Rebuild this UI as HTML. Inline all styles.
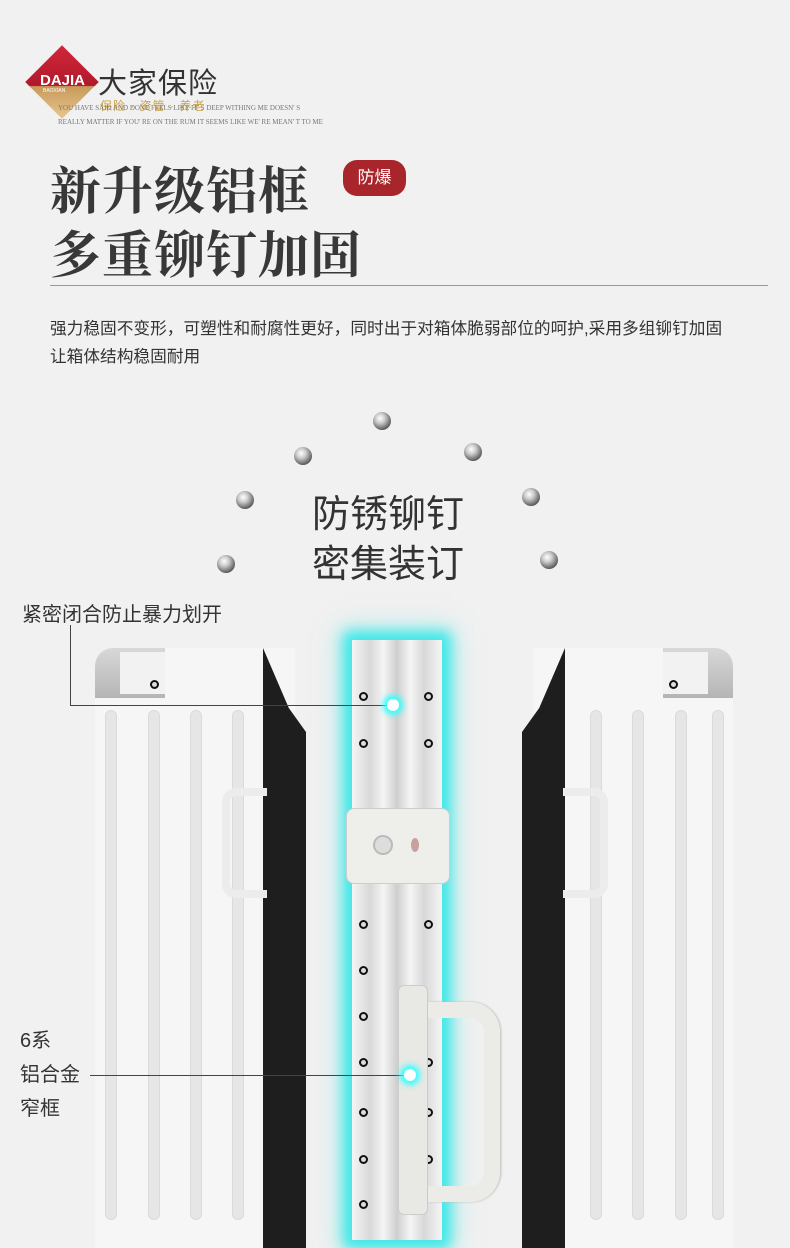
<!DOCTYPE html>
<html><head><meta charset="utf-8"><style>
*{margin:0;padding:0;box-sizing:border-box}
body{width:790px;height:1223px;background:#f1f1f1;position:relative;overflow:hidden;font-family:"Liberation Sans","Noto Sans CJK SC",sans-serif;color:#333}
.a{position:absolute}
.serif{font-family:"Liberation Serif","Noto Serif CJK SC",serif}
.ball{position:absolute;width:18px;height:18px;border-radius:50%;background:radial-gradient(circle at 40% 35%,#fff 0,#ccc 30%,#555 75%,#222 100%)}
.hole{position:absolute;width:9px;height:9px;border-radius:50%;border:2px solid #111;background:#ddd}
.groove{position:absolute;width:12px;border-radius:6px;background:#e6e6e6;border:1px solid #dadada}
</style></head><body>
<!-- logo -->
<div class="a" style="left:36px;top:56px;width:52px;height:52px;transform:rotate(45deg);background:linear-gradient(135deg,#d3263a,#b01a2a 55%,#c89a5a 56%,#e8c590)"></div>
<div class="a" style="left:40px;top:72px;font-size:15px;font-weight:bold;color:#fff">DAJIA</div>
<div class="a" style="left:43px;top:88px;font-size:5px;color:#fff">BAOXIAN</div>
<div class="a" style="left:98px;top:60px;font-size:29px;color:#333;letter-spacing:1px">大家保险</div>
<div class="a" style="left:100px;top:97px;font-size:12px;color:#c9a24c;letter-spacing:1px">保险 · 资管 · 养老</div>
<div class="a serif" style="left:58px;top:104px;font-size:7px;color:#777">YOU HAVE SAID AND DONE FEELS LIKE IT' S DEEP WITHING ME DOESN' S</div>
<div class="a serif" style="left:58px;top:118px;font-size:7px;color:#777">REALLY MATTER IF YOU' RE ON THE RUM IT SEEMS LIKE WE' RE MEAN' T TO ME</div>
<!-- title -->
<div class="a serif" style="left:50px;top:150px;font-size:51px;font-weight:bold;color:#383838;letter-spacing:1px">新升级铝框</div>
<div class="a serif" style="left:50px;top:214px;font-size:51px;font-weight:bold;color:#383838;letter-spacing:1px">多重铆钉加固</div>
<div class="a" style="left:343px;top:160px;width:63px;height:36px;border-radius:14px;background:#a8252b;color:#fff;font-size:17px;text-align:center;line-height:36px">防爆</div>
<div class="a" style="left:50px;top:285px;width:718px;height:1px;background:#999"></div>
<div class="a" style="left:50px;top:315px;font-size:16.7px;color:#333;white-space:nowrap">强力稳固不变形，可塑性和耐腐性更好，同时出于对箱体脆弱部位的呵护,采用多组铆钉加固</div>
<div class="a" style="left:50px;top:343px;font-size:16.7px;color:#333">让箱体结构稳固耐用</div>
<!-- rivets -->
<div class="ball" style="left:373px;top:412px"></div>
<div class="ball" style="left:294px;top:447px"></div>
<div class="ball" style="left:464px;top:443px"></div>
<div class="ball" style="left:236px;top:491px"></div>
<div class="ball" style="left:522px;top:488px"></div>
<div class="ball" style="left:217px;top:555px"></div>
<div class="ball" style="left:540px;top:551px"></div>
<div class="a" style="left:300px;top:483px;width:176px;text-align:center;font-size:38px;color:#333">防锈铆钉</div>
<div class="a" style="left:300px;top:533px;width:176px;text-align:center;font-size:38px;color:#333">密集装订</div>
<div class="a" style="left:22px;top:598px;font-size:20px;color:#333">紧密闭合防止暴力划开</div>
<!-- left case -->
<div class="a" style="left:95px;top:648px;width:200px;height:600px;background:#f6f6f6;border-radius:18px 0 0 0"></div>
<div class="a" style="left:95px;top:648px;width:70px;height:50px;background:linear-gradient(#d8d8d8,#b5b5b5);border-radius:18px 0 0 0"></div>
<div class="a" style="left:120px;top:652px;width:45px;height:42px;background:#f2f2f2"></div>
<div class="hole" style="left:150px;top:680px"></div>
<div class="a" style="left:263px;top:648px;width:43px;height:600px;background:#1e1e1e;clip-path:polygon(0 0,60% 10%,100% 14%,100% 100%,0 100%)"></div>
<div class="groove" style="left:105px;top:710px;height:510px"></div>
<div class="groove" style="left:148px;top:710px;height:510px"></div>
<div class="groove" style="left:190px;top:710px;height:510px"></div>
<div class="groove" style="left:232px;top:710px;height:510px"></div>
<div class="a" style="left:222px;top:788px;width:45px;height:110px;border:8px solid #ececec;border-right:none;border-radius:14px 0 0 14px"></div>
<!-- right case -->
<div class="a" style="left:533px;top:648px;width:200px;height:600px;background:#f6f6f6;border-radius:0 18px 0 0"></div>
<div class="a" style="left:663px;top:648px;width:70px;height:50px;background:linear-gradient(#d8d8d8,#b5b5b5);border-radius:0 18px 0 0"></div>
<div class="a" style="left:663px;top:652px;width:45px;height:42px;background:#f2f2f2"></div>
<div class="hole" style="left:669px;top:680px"></div>
<div class="a" style="left:522px;top:648px;width:43px;height:600px;background:#1e1e1e;clip-path:polygon(100% 0,40% 10%,0 14%,0 100%,100% 100%)"></div>
<div class="groove" style="left:590px;top:710px;height:510px"></div>
<div class="groove" style="left:632px;top:710px;height:510px"></div>
<div class="groove" style="left:675px;top:710px;height:510px"></div>
<div class="groove" style="left:712px;top:710px;height:510px"></div>
<div class="a" style="left:563px;top:788px;width:45px;height:110px;border:8px solid #ececec;border-left:none;border-radius:0 14px 14px 0"></div>
<!-- center frame -->
<div class="a" style="left:352px;top:640px;width:90px;height:600px;background:linear-gradient(90deg,#f5f5f5,#d8d8d8 20%,#f5f5f5 35%,#cfcfcf 50%,#f5f5f5 65%,#d8d8d8 80%,#f5f5f5);box-shadow:0 0 12px 8px #3fe8e8,0 0 24px 10px rgba(60,230,230,.5)"></div>
<div class="hole" style="left:359px;top:692px"></div><div class="hole" style="left:424px;top:692px"></div>
<div class="hole" style="left:359px;top:739px"></div><div class="hole" style="left:424px;top:739px"></div>
<div class="hole" style="left:359px;top:920px"></div><div class="hole" style="left:424px;top:920px"></div>
<div class="hole" style="left:359px;top:966px"></div>
<div class="hole" style="left:359px;top:1012px"></div>
<div class="hole" style="left:359px;top:1058px"></div><div class="hole" style="left:424px;top:1058px"></div>
<div class="hole" style="left:359px;top:1108px"></div><div class="hole" style="left:424px;top:1108px"></div>
<div class="hole" style="left:359px;top:1155px"></div><div class="hole" style="left:424px;top:1155px"></div>
<div class="hole" style="left:359px;top:1200px"></div>
<!-- lock -->
<div class="a" style="left:346px;top:808px;width:104px;height:76px;background:#eeeeea;border:1px solid #ccc;border-radius:8px"></div>
<div class="a" style="left:373px;top:835px;width:20px;height:20px;border-radius:50%;background:#ddd;border:2px solid #bbb"></div>
<div class="a" style="left:411px;top:838px;width:8px;height:14px;border-radius:50%;background:#c9a0a0"></div>
<!-- handle -->
<div class="a" style="left:398px;top:985px;width:30px;height:230px;background:#e8e8e4;border:1px solid #ccc;border-radius:6px"></div>
<div class="a" style="left:428px;top:1002px;width:72px;height:200px;border:16px solid #ebebe7;border-left:none;border-radius:0 30px 30px 0;box-shadow:1px 0 2px #bbb"></div>
<!-- connectors -->
<div class="a" style="left:70px;top:625px;width:1px;height:80px;background:#444"></div>
<div class="a" style="left:70px;top:705px;width:323px;height:1px;background:#444"></div>
<div class="a" style="left:387px;top:699px;width:12px;height:12px;border-radius:50%;background:#fff;box-shadow:0 0 6px 4px #3ff"></div>
<div class="a" style="left:20px;top:1024px;font-size:20px;line-height:34px;color:#333">6系<br>铝合金<br>窄框</div>
<div class="a" style="left:90px;top:1075px;width:320px;height:1px;background:#444"></div>
<div class="a" style="left:404px;top:1069px;width:12px;height:12px;border-radius:50%;background:#fff;box-shadow:0 0 6px 4px #3ff"></div>
</body></html>
